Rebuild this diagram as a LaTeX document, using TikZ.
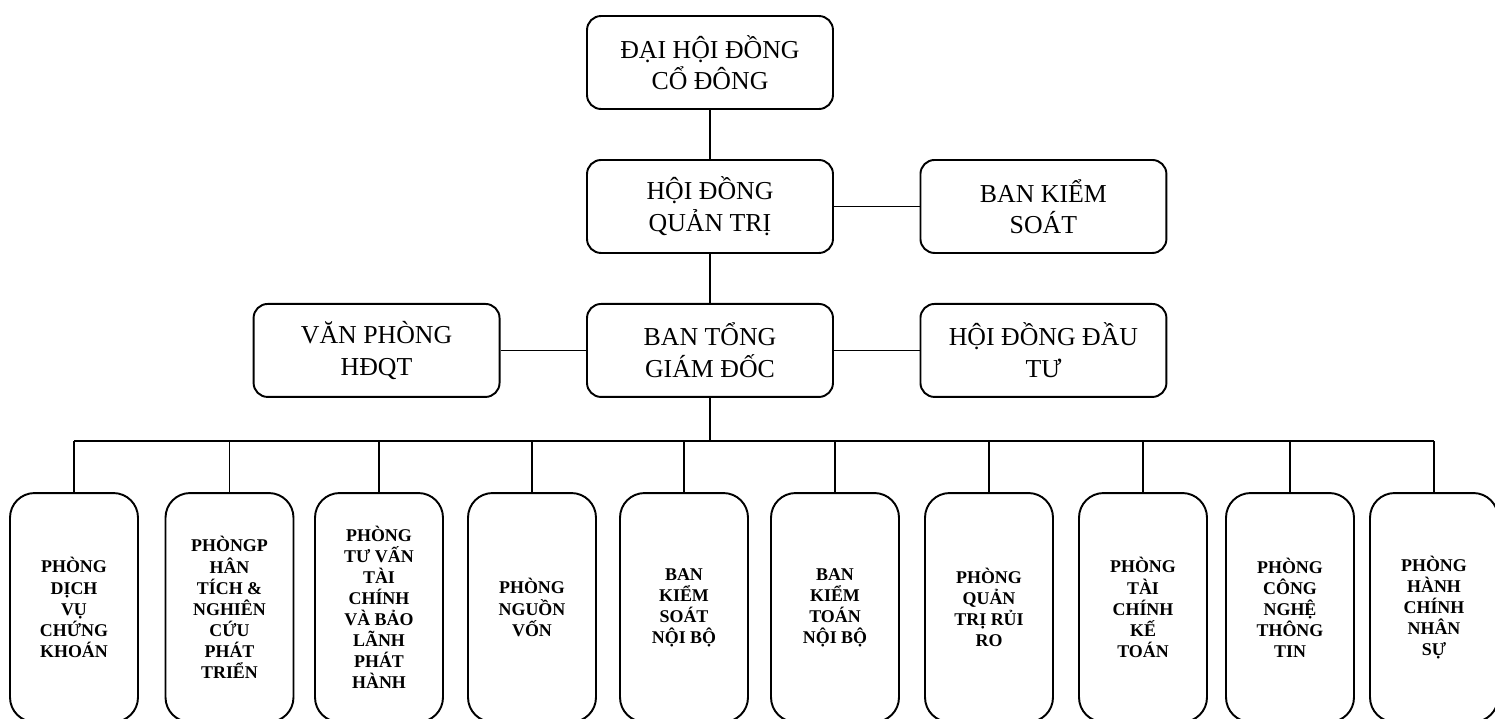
\documentclass[tikz,border=0pt]{standalone}
\usepackage{fontspec}
\setmainfont{Liberation Serif}
\usetikzlibrary{positioning}

\tikzset{
  topbox/.style = {draw, line width=1.1pt, rounded corners=8pt,
    minimum width=4.92cm, minimum height=1.86cm, align=center,
    inner sep=2pt, font=\fontsize{14.7}{18}\selectfont},
  unitbox/.style = {draw, line width=1.1pt, rounded corners=14pt,
    minimum width=2.56cm, minimum height=4.58cm, align=center,
    inner sep=2pt, font=\bfseries\fontsize{10.2}{12}\selectfont},
  link/.style = {line width=0.7pt}
}

\begin{document}
\begin{tikzpicture}[x=0.02cm, y=-0.02cm, on grid, node distance=2.88cm and 6.67cm]
  \useasboundingbox (0,0) rectangle (1495,718);

  % governing bodies
  \node[topbox] (dhcd) at (710,62.5) {ĐẠI HỘI ĐỒNG\\CỔ ĐÔNG};
  \node[topbox] (hdqt) [below=of dhcd] {HỘI ĐỒNG\\QUẢN TRỊ};
  \node[topbox] (bks)  [right=of hdqt] {BAN KIỂM\\SOÁT};
  \node[topbox] (btgd) [below=of hdqt] {BAN TỔNG\\GIÁM ĐỐC};
  \node[topbox] (vp)   [left=of btgd]  {VĂN PHÒNG\\HĐQT};
  \node[topbox] (hddt) [right=of btgd] {HỘI ĐỒNG ĐẦU\\TƯ};

  \draw[link] (dhcd) -- (hdqt);
  \draw[link] (hdqt) -- (btgd);
  \draw[link] (hdqt) -- (bks);
  \draw[link] (vp) -- (btgd);
  \draw[link] (btgd) -- (hddt);

  % departments
  \coordinate (bus) at (0,441);
  \foreach \x/\name/\label in {
      74/u1/{PHÒNG\\DỊCH\\VỤ\\CHỨNG\\KHOÁN},
      229.5/u2/{PHÒNGP\\HÂN\\TÍCH \&\\NGHIÊN\\CỨU\\PHÁT\\TRIỂN},
      379/u3/{PHÒNG\\TƯ VẤN\\TÀI\\CHÍNH\\VÀ BẢO\\LÃNH\\PHÁT\\HÀNH},
      532/u4/{PHÒNG\\NGUỒN\\VỐN},
      684/u5/{BAN\\KIỂM\\SOÁT\\NỘI BỘ},
      835/u6/{BAN\\KIỂM\\TOÁN\\NỘI BỘ},
      989/u7/{PHÒNG\\QUẢN\\TRỊ RỦI\\RO},
      1143/u8/{PHÒNG\\TÀI\\CHÍNH\\KẾ\\TOÁN},
      1290/u9/{PHÒNG\\CÔNG\\NGHỆ\\THÔNG\\TIN},
      1434/u10/{PHÒNG\\HÀNH\\CHÍNH\\NHÂN\\SỰ}}
  {
    \node[unitbox] (\name) at (\x,607.5) {\label};
    \draw[link] (\name |- bus) -- (\name.north);
  }

  \draw[link] (btgd) -- (btgd |- bus);
  \draw[link] (u1 |- bus) -- (u10 |- bus);
\end{tikzpicture}
\end{document}
